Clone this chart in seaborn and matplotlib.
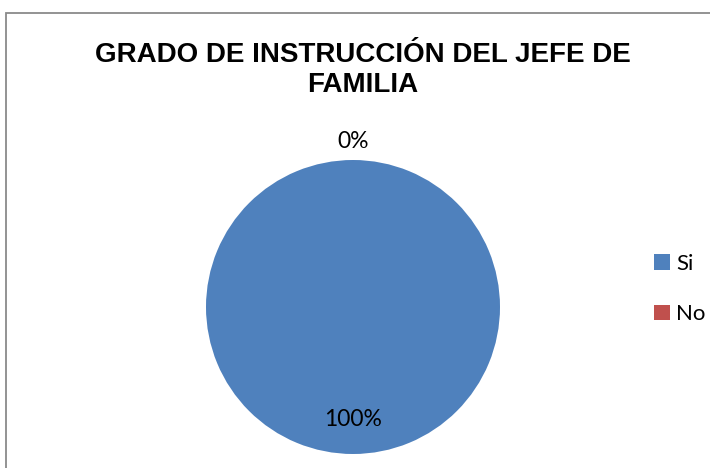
import matplotlib
matplotlib.use("Agg")
import matplotlib.pyplot as plt
from matplotlib.patches import Rectangle, Patch
import seaborn as sns

categories = ["Si", "No"]
values = [100, 0]
pct_labels = ["100%", "0%"]
title = "GRADO DE INSTRUCCIÓN DEL JEFE DE\nFAMILIA"
colors = ["#4F81BD", "#C0504D"]

sns.set_style("white")
plt.rcParams['font.family'] = ['Lato', 'DejaVu Sans']
plt.rcParams['text.color'] = 'black'

fig = plt.figure(figsize=(7.10, 4.68), dpi=100)
fig.patch.set_facecolor("white")

# outer chart border
fig.patches.append(Rectangle((5.5/710, -0.1), 1.2, 1 - 12.5/468 + 0.1,
                             transform=fig.transFigure, fill=False,
                             edgecolor="#8a8a8a", linewidth=1.3))

ax = fig.add_axes([(353 - 147) / 710, (161 - 147) / 468, 294 / 710, 294 / 468])
wedges, texts = ax.pie(values, colors=colors, startangle=90, counterclock=False,
                       radius=1.0, wedgeprops=dict(linewidth=0))
ax.set_xlim(-1, 1)
ax.set_ylim(-1, 1)
ax.axis("off")

ax.text(0, -0.765, pct_labels[0], ha="center", va="center", fontsize=16.5, color="black")
ax.text(0, 1.125, pct_labels[1], ha="center", va="center", fontsize=16.5, color="black",
        clip_on=False)

fig.text(363 / 710, 1 - 70 / 468, title, ha="center", va="center", fontsize=20,
         fontweight="bold", family=["Liberation Sans", "DejaVu Sans"], linespacing=1.2,
         color="black")

handles = [Patch(facecolor=c, edgecolor="none") for c in colors]
fig.legend(handles, categories, loc="center left", bbox_to_anchor=(634 / 710, 1 - 289 / 468),
           frameon=False, fontsize=16, handlelength=0.7, handleheight=0.7,
           handletextpad=0.3, labelspacing=1.38)

fig.savefig("out.png", dpi=100)
